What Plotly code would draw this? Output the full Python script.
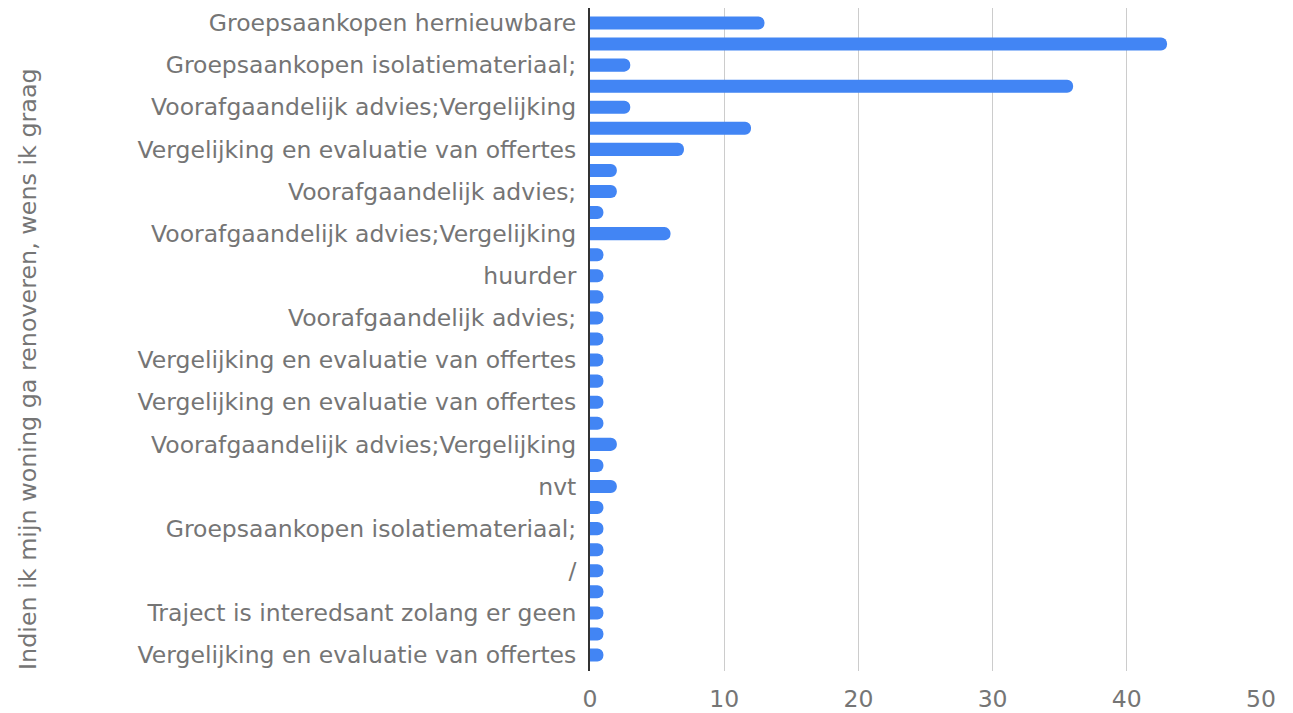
import plotly.graph_objects as go

values = [13, 43, 3, 36, 3, 12, 7, 2, 2, 1, 6, 1, 1, 1, 1, 1,
          1, 1, 1, 1, 2, 1, 2, 1, 1, 1, 1, 1, 1, 1, 1]
positions = list(range(len(values)))
tick_positions = list(range(0, len(values), 2))
tick_labels = [
    "Groepsaankopen hernieuwbare",
    "Groepsaankopen isolatiemateriaal;",
    "Voorafgaandelijk advies;Vergelijking",
    "Vergelijking en evaluatie van offertes",
    "Voorafgaandelijk advies;",
    "Voorafgaandelijk advies;Vergelijking",
    "huurder",
    "Voorafgaandelijk advies;",
    "Vergelijking en evaluatie van offertes",
    "Vergelijking en evaluatie van offertes",
    "Voorafgaandelijk advies;Vergelijking",
    "nvt",
    "Groepsaankopen isolatiemateriaal;",
    "/",
    "Traject is interedsant zolang er geen",
    "Vergelijking en evaluatie van offertes",
]
x_ticks = [0, 10, 20, 30, 40, 50]
y_title = "Indien ik mijn woning ga renoveren, wens ik graag"

FONT = "DejaVu Sans"
GREY = "#757575"
FS = 23.5

fig = go.Figure(go.Bar(
    x=values, y=positions, orientation="h",
    marker=dict(color="#4285F4", cornerradius=7, line=dict(width=0)),
))

fig.update_layout(
    width=1285, height=705,
    margin=dict(l=582, r=32, t=0, b=40),
    paper_bgcolor="white", plot_bgcolor="white",
    bargap=0.38,
    showlegend=False,
    font=dict(family=FONT, size=FS, color=GREY),
)
fig.update_xaxes(
    range=[0, 50], tickvals=x_ticks, showgrid=True, gridcolor="#cccccc",
    gridwidth=1, zeroline=False, showline=False, ticks="",
    ticklabelstandoff=11, ticklabeloverflow="allow",
    tickfont=dict(family=FONT, size=FS, color=GREY),
)
fig.update_yaxes(
    range=[30.757, -0.71], tickvals=tick_positions, ticktext=tick_labels,
    showgrid=False, zeroline=False, showline=True, linecolor="#333333", linewidth=2,
    ticks="", ticklabelstandoff=7, ticklabeloverflow="allow",
    tickfont=dict(family=FONT, size=FS, color=GREY),
)
fig.add_annotation(
    text=y_title, textangle=-90, showarrow=False,
    xref="paper", yref="paper", x=(28 - 590) / 671, y=(673 - 371) / 665,
    xanchor="center", yanchor="middle",
    font=dict(family=FONT, size=23.8, color=GREY),
)
fig.write_html("out.html")
